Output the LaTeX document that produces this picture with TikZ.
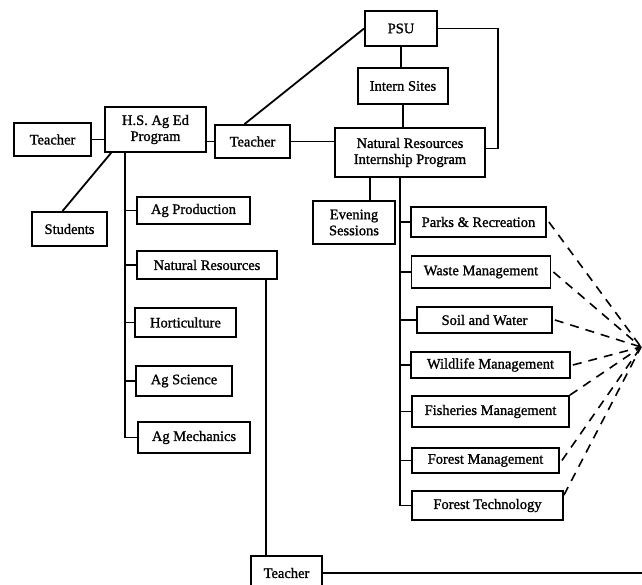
\documentclass[tikz,border=0pt]{standalone}
\usepackage{fontspec}
\setmainfont{Liberation Serif}[RawFeature={embolden=1.2}]
\begin{document}
\begin{tikzpicture}[x=1pt,y=-1pt,
        box/.style={draw, line width=1.8pt, inner sep=0pt, align=center, font=\fontsize{14.5}{16}\selectfont},
        link/.style={line width=1.8pt},
        dashlink/.style={line width=1.6pt, dash pattern=on 9pt off 7pt}]
    \useasboundingbox (0,0) rectangle (642,585);

    % left side
    \node[box, minimum width=77pt, minimum height=33pt] (teacherL) at (52.5,139.5) {Teacher};
    \node[box, minimum width=101pt, minimum height=45pt] (hsag) at (155.5,129.5) {H.S. Ag Ed\\Program};
    \node[box, minimum width=75pt, minimum height=33pt] (teacherM) at (252.5,141.5) {Teacher};
    \node[box, minimum width=75pt, minimum height=34pt] (students) at (69.5,229) {Students};
    \node[box, minimum width=113pt, minimum height=27pt] (agprod) at (193.5,210.5) {Ag Production};
    \node[box, minimum width=140pt, minimum height=28pt] (natres) at (207,265) {Natural Resources};
    \node[box, minimum width=101pt, minimum height=29pt] (hort) at (185.5,322.5) {Horticulture};
    \node[box, minimum width=96pt, minimum height=30pt] (agsci) at (184,381) {Ag Science};
    \node[box, minimum width=112pt, minimum height=31pt] (agmech) at (194,437.5) {Ag Mechanics};
    \node[box, minimum width=71pt, minimum height=34pt] (teacherB) at (286.5,573) {Teacher};

    % top and right side
    \node[box, minimum width=72pt, minimum height=35pt] (psu) at (401,28.5) {PSU};
    \node[box, minimum width=90pt, minimum height=36pt] (sites) at (403,86) {Intern Sites};
    \node[box, minimum width=150pt, minimum height=49pt] (nrip) at (410,152.5) {Natural Resources\\Internship Program};
    \node[box, minimum width=82pt, minimum height=43pt] (evening) at (354,222.5) {Evening\\Sessions};
    \node[box, minimum width=135pt, minimum height=30pt] (parks) at (478.5,222) {Parks \& Recreation};
    \node[box, minimum width=139pt, minimum height=32pt] (waste) at (481,272) {Waste Management};
    \node[box, minimum width=135pt, minimum height=26pt] (soil) at (484.5,320) {Soil and Water};
    \node[box, minimum width=159pt, minimum height=26pt] (wildlife) at (490.5,365) {Wildlife Management};
    \node[box, minimum width=157pt, minimum height=31pt] (fish) at (490.5,411.5) {Fisheries Management};
    \node[box, minimum width=147pt, minimum height=25pt] (forman) at (485.5,460.5) {Forest Management};
    \node[box, minimum width=151pt, minimum height=29pt] (fortech) at (487.5,505.5) {Forest Technology};

    \coordinate (agtrunk) at (125,152);
    \coordinate (nrdrop) at ([xshift=-12pt]natres.south east);
    \coordinate (evedrop) at ([xshift=-40pt]nrip.south);
    \coordinate (nrtrunk) at ([xshift=-10pt]nrip.south);
    \coordinate (edgeB) at (650,573);
    \coordinate (hub) at (641,347);

    \draw[link] (teacherL.east) -- (teacherL.east -| hsag.west);
    \draw[link] (teacherM.west) -- (teacherM.west -| hsag.east);
    \draw[link] ([xshift=7pt]hsag.south west) -- ([xshift=-7pt]students.north);
    \draw[link] (agtrunk) -- (agtrunk |- agmech.west) -- (agmech.west);
    \foreach \n in {agprod,natres,hort,agsci}
        \draw[link] (agtrunk |- \n.west) -- (\n.west);
    \draw[link] (nrdrop) -- (nrdrop |- teacherB.north);
    \draw[link] (teacherB.east) -- (edgeB);

    \draw[link] ([xshift=-8pt]teacherM.north) -- (psu.west);
    \draw[link] (teacherM.east) -- (teacherM.east -| nrip.west);
    \draw[link] (psu.south) -- (psu.south |- sites.north);
    \draw[link] (sites.south) -- (sites.south |- nrip.north);
    \draw[link] (psu.east) -- ++(60,0) |- ([yshift=4pt]nrip.east);
    \draw[link] (evedrop) -- (evedrop |- evening.north);
    \draw[link] (nrtrunk) -- (nrtrunk |- fortech.west) -- (fortech.west);
    \foreach \n in {parks,waste,soil,wildlife,fish,forman}
        \draw[link] (nrtrunk |- \n.west) -- (\n.west);

    \foreach \n in {parks,waste,soil,wildlife,forman}
        \draw[dashlink] ([xshift=2pt]\n.east) -- (hub);
    \draw[dashlink] (fish.north east) -- (hub);
    \draw[dashlink] ([yshift=-5pt]fortech.north east) -- (hub);
\end{tikzpicture}
\end{document}
